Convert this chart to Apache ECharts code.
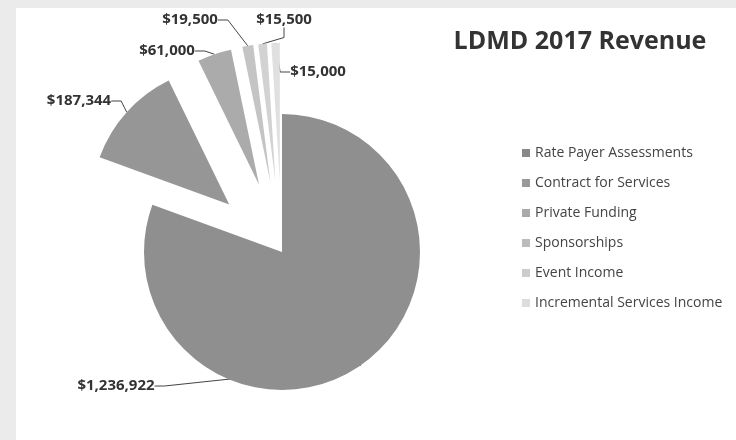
<!DOCTYPE html>
<html>
<head>
<meta charset="utf-8">
<script src="https://cdn.jsdelivr.net/npm/echarts@6/dist/echarts.min.js"></script>
<style>html,body{margin:0;padding:0;background:#fff}#c{width:736px;height:440px}</style>
</head>
<body>
<div id="c"></div>
<script>
// ---- data ----
var categories = ['Rate Payer Assessments', 'Contract for Services', 'Private Funding', 'Sponsorships', 'Event Income', 'Incremental Services Income'];
var values = [1236922, 187344, 61000, 19500, 15500, 15000];
var exploded = [false, true, true, true, true, true];

// ---- styles / layout (kept apart from data) ----
var colors = ['#8f8f8f', '#969696', '#ababab', '#c4c4c4', '#d2d2d2', '#e0e0e0'];
var legendColors = ['#888888', '#999999', '#aaaaaa', '#bbbbbb', '#cccccc', '#dddddd'];
var labelPos = [[116, 386], [79, 101], [167, 51], [190, 20], [284, 20], [318, 72]];
var pieCenter = [282, 252];
var pieRadius = 138;
var explodeOffset = 71;

function fmt(v) { return '$' + v.toLocaleString('en-US'); }

var total = values.reduce(function (a, b) { return a + b; }, 0);
var cum = 0;
var series = values.map(function (v, k) {
  var mid = (cum + v / 2) / total * Math.PI * 2;
  cum += v;
  var off = exploded[k] ? explodeOffset : 0;
  var c = [pieCenter[0] + off * Math.sin(mid), pieCenter[1] - off * Math.cos(mid)];
  var data = categories.map(function (name, i) {
    var visible = i === k;
    return {
      name: name,
      value: values[i],
      itemStyle: { color: visible ? colors[i] : 'rgba(0,0,0,0)' },
      label: { show: visible },
      labelLine: { show: visible }
    };
  });
  return {
    type: 'pie',
    center: c,
    radius: pieRadius,
    startAngle: 90,
    clockwise: true,
    avoidLabelOverlap: false,
    silent: true,
    emphasis: { disabled: true },
    label: {
      position: 'outside',
      formatter: function (p) { return fmt(p.value); },
      fontFamily: 'Open Sans', fontWeight: 'bold', fontSize: 15, color: '#333333'
    },
    labelLine: { length: 10, length2: 10, lineStyle: { color: '#444444', width: 1 } },
    labelLayout: function (p) {
      var pos = labelPos[p.dataIndex];
      return { x: pos[0], y: pos[1], align: 'center', verticalAlign: 'middle' };
    },
    data: data
  };
});

var chart = echarts.init(document.getElementById('c'));
chart.setOption({
  animation: false,
  backgroundColor: '#ebebeb',
  graphic: [{ type: 'rect', left: 16, top: 8, shape: { width: 720, height: 432 }, style: { fill: '#ffffff' }, z: -10 }],
  title: {
    text: 'LDMD 2017 Revenue',
    left: 575, top: 24, textAlign: 'center',
    textStyle: { fontFamily: 'Open Sans', fontWeight: 'bold', fontSize: 25, color: '#333333' }
  },
  legend: {
    orient: 'vertical',
    left: 517, top: 140,
    itemWidth: 8, itemHeight: 8, icon: 'rect',
    itemGap: 14,
    selectedMode: false,
    textStyle: { fontFamily: 'Open Sans', fontSize: 14, color: '#444444', lineHeight: 16 },
    data: categories.map(function (name, i) { return { name: name, itemStyle: { color: legendColors[i] } }; })
  },
  series: series
});
</script>
</body>
</html>
